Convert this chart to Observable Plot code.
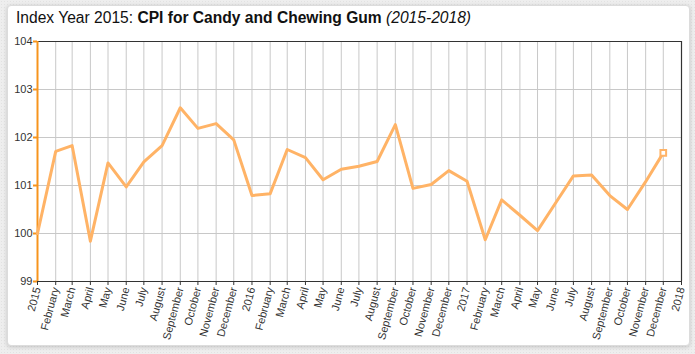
<!DOCTYPE html>
<html>
<head>
<meta charset="utf-8">
<script src="https://cdn.jsdelivr.net/npm/d3@7"></script>
<script src="https://cdn.jsdelivr.net/npm/@observablehq/plot@0.6"></script>
<style>
  html, body { margin: 0; padding: 0; }
  body {
    width: 695px; height: 354px; position: relative; overflow: hidden;
    background-color: #eeeeee;
    background-image: radial-gradient(#e2e2e2 1px, transparent 1px);
    background-size: 3px 3px;
    font-family: "Liberation Sans", Arial, sans-serif;
  }
  #card {
    position: absolute; left: 7px; top: 5px; width: 681px; height: 339px;
    background: #fff; border: 1px solid #dcdcdc; border-radius: 4px;
    box-shadow: 0 1px 4px rgba(0,0,0,0.18);
  }
  #title {
    position: absolute; left: 16px; top: 9px; font-size: 15.6px; color: #111;
    white-space: nowrap;
  }
  #chart { position: absolute; left: 0; top: 30px; }
</style>
</head>
<body>
<div id="card"></div>
<div id="title">Index Year 2015: <b>CPI for Candy and Chewing Gum</b> <i>(2015-2018)</i></div>
<div id="chart"></div>
<script>
// Monthly dates (first of month), Jan 2015 .. Dec 2017
const months = [
  "2015-01","2015-02","2015-03","2015-04","2015-05","2015-06","2015-07","2015-08","2015-09","2015-10","2015-11","2015-12",
  "2016-01","2016-02","2016-03","2016-04","2016-05","2016-06","2016-07","2016-08","2016-09","2016-10","2016-11","2016-12",
  "2017-01","2017-02","2017-03","2017-04","2017-05","2017-06","2017-07","2017-08","2017-09","2017-10","2017-11","2017-12"
];
// CPI values
const cpi = [
  100.00, 101.71, 101.83, 99.84, 101.47, 100.97, 101.49, 101.83, 102.62, 102.19, 102.29, 101.95,
  100.79, 100.83, 101.75, 101.58, 101.12, 101.34, 101.40, 101.50, 102.27, 100.94, 101.02, 101.31,
  101.09, 99.87, 100.70, 100.38, 100.06, 100.64, 101.20, 101.22, 100.79, 100.50, 101.08, 101.68
];
// X tick positions and labels
const tickMonths = months.concat(["2018-01"]);
const tickLabels = [
  "2015","February","March","April","May","June","July","August","September","October","November","December",
  "2016","February","March","April","May","June","July","August","September","October","November","December",
  "2017","February","March","April","May","June","July","August","September","October","November","December",
  "2018"
];
const yTicks = [99, 100, 101, 102, 103, 104];

const parse = s => new Date(s + "-01T00:00:00Z");
const data = months.map((m, i) => ({date: parse(m), value: cpi[i]}));
const tickDates = tickMonths.map(parse);
const labelOf = new Map(tickDates.map((d, i) => [+d, tickLabels[i]]));

const orange = "#f7941d";
const lineColor = "#ffb366";
const dark = "#333333";
const x0 = tickDates[0], x1 = tickDates[tickDates.length - 1];

const chart = Plot.plot({
  width: 695,
  height: 320,
  marginLeft: 37,
  marginRight: 14,
  marginTop: 11,
  marginBottom: 69,
  style: {fontFamily: "'Liberation Sans', Arial, sans-serif", fontSize: "11px", background: "transparent", color: dark},
  x: {type: "utc", domain: [x0, x1]},
  y: {domain: [99, 104]},
  marks: [
    Plot.gridX(tickDates, {stroke: "#c8c8c8", strokeOpacity: 1}),
    Plot.gridY(yTicks, {stroke: "#c8c8c8", strokeOpacity: 1}),
    Plot.ruleY([104], {stroke: dark, strokeWidth: 1.2}),
    Plot.ruleY([99], {stroke: dark, strokeWidth: 1.2}),
    Plot.ruleX([x1], {stroke: dark, strokeWidth: 1.2}),
    Plot.axisX({
      ticks: tickDates,
      tickFormat: d => labelOf.get(+d),
      tickRotate: -75,
      tickSize: 4,
      tickPadding: 2,
      stroke: dark,
      fill: dark,
      label: null
    }),
    Plot.axisY({
      ticks: yTicks,
      tickFormat: d3.format("d"),
      tickSize: 4,
      tickPadding: 1,
      stroke: orange,
      strokeWidth: 2,
      fill: dark,
      label: null
    }),
    Plot.ruleX([x0], {stroke: orange, strokeWidth: 2}),
    Plot.lineY(data, {x: "date", y: "value", stroke: lineColor, strokeWidth: 3}),
    Plot.dot(data.slice(-1), {x: "date", y: "value", symbol: "square", r: 3.2, stroke: lineColor, fill: "white", strokeWidth: 2})
  ]
});
document.getElementById("chart").appendChild(chart);
</script>
</body>
</html>
